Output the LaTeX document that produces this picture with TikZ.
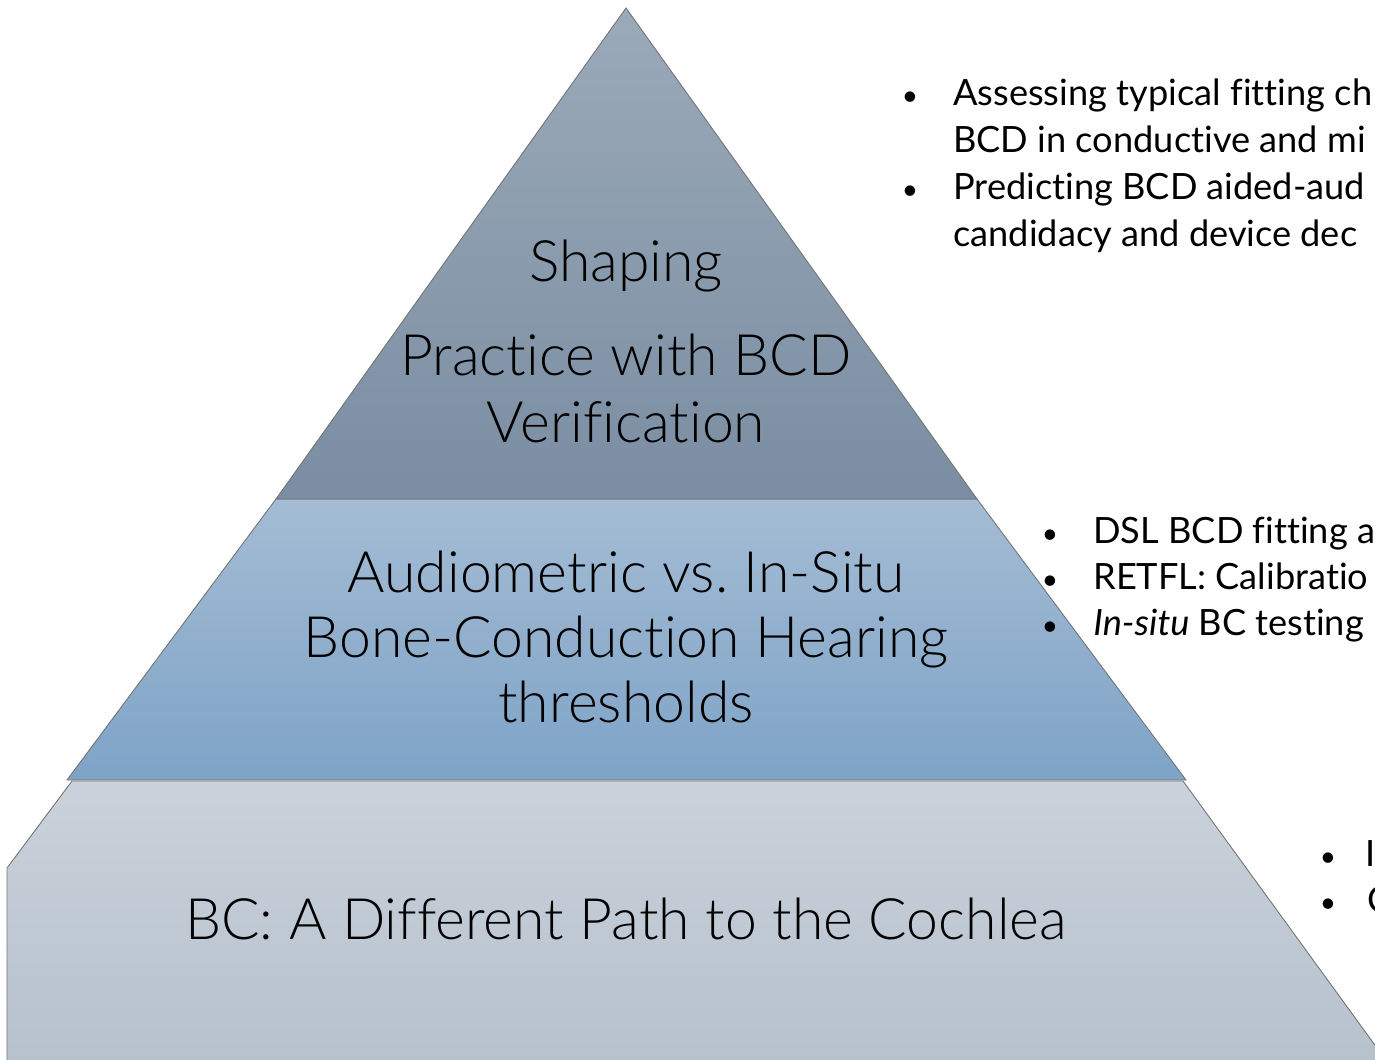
\documentclass[tikz,border=0pt]{standalone}
\usepackage{fontspec}
\setmainfont{Lato}[Ligatures={NoCommon}]
\newfontfamily\thinfont{Lato Light}[Ligatures={NoCommon}]
\usepackage{tikz}
\usetikzlibrary{positioning}
\frenchspacing
\definecolor{capTop}{HTML}{9BAAB9}
\definecolor{capBot}{HTML}{7A8DA2}
\definecolor{midTop}{HTML}{A4BCD4}
\definecolor{midBot}{HTML}{7EA3C7}
\definecolor{baseTop}{HTML}{CAD2DB}
\definecolor{baseBot}{HTML}{B6C1CC}
\tikzstyle{layer}=[draw=black!55, line width=0.5pt]
\tikzstyle{title}=[font=\thinfont\fontsize{32.5}{39}\selectfont, inner sep=0, anchor=base]
\tikzstyle{note}=[font=\fontsize{20.6}{24}\selectfont, inner sep=0, anchor=base west]
\tikzstyle{dot}=[font=\fontsize{16}{19}\selectfont, inner sep=0, anchor=base]

\begin{document}
\begin{tikzpicture}[x=0.02cm, y=-0.02cm]
\useasboundingbox (0,0) rectangle (1375,1060);
\clip (0,0) rectangle (1375,1060);
% the three layers of the pyramid
\draw[layer, top color=baseTop, bottom color=baseBot] (72,781) -- (1183,781) -- (1393,1070) -- (7,1070) -- (7,868) -- cycle;
\draw[layer, top color=midTop, bottom color=midBot] (276,499) -- (977,499) -- (1186,780) -- (67,780) -- cycle;
\draw[layer, top color=capTop, bottom color=capBot] (626,8) -- (977,499) -- (276,499) -- cycle;

\node[title] (shaping) at (626,282) {Shaping};
\node[title] (practice) at (626,376) {Practice with BCD};
\node[title] (verif) at (626,442) {Verification};

\node[title] (audio) at (626,592) {Audiometric vs. In-Situ};
\node[title] (bone) at (626,657) {Bone-Conduction Hearing};
\node[title] (thresh) at (626,722) {thresholds};

\node[title] (path) at (626,939) {BC: A Different Path to the Cochlea};

% notes beside each layer
\node[dot] (b1) at (910,106) {\textbullet};
\node[note] (t1) at (953,106) {Assessing typical fitting ch};
\node[note] (t2) at (953,153) {BCD in conductive and mi};
\node[dot] (b2) at (910,200) {\textbullet};
\node[note] (t3) at (953,200) {Predicting BCD aided-aud};
\node[note] (t4) at (953,247) {candidacy and device dec};

\node[dot] (b3) at (1050,543) {\textbullet};
\node[note] (m1) at (1093,543) {DSL BCD fitting a};
\node[dot] (b4) at (1050,589) {\textbullet};
\node[note] (m2) at (1093,589) {RETFL: Calibratio};
\node[dot] (b5) at (1050,635) {\textbullet};
\node[note] (m3) at (1093,635) {\textit{In-situ} BC testing};

\node[dot] (b6) at (1328,866) {\textbullet};
\node[note] (l1) at (1365,866) {I};
\node[dot] (b7) at (1328,912) {\textbullet};
\node[note] (l2) at (1367,912) {C};
\end{tikzpicture}
\end{document}
